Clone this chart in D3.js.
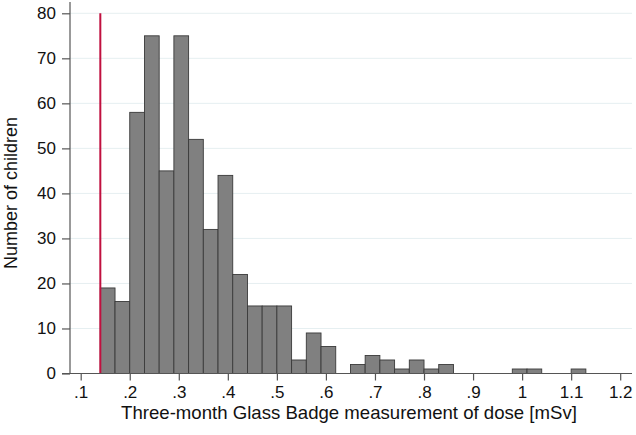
<!DOCTYPE html>
<html>
<head>
<meta charset="utf-8">
<script src="https://cdn.jsdelivr.net/npm/d3@7"></script>
<style>
  html, body { margin: 0; padding: 0; background: #fff; }
  svg { display: block; }
  text { font-family: "Liberation Sans", Arial, Helvetica, sans-serif; fill: #111; }
</style>
</head>
<body>
<svg id="chart" width="636" height="435"></svg>
<script>
// Histogram bins (left edges, width 0.03 mSv) and counts
const binStart = 0.14;
const binWidth = 0.03;
const counts = [19, 16, 58, 75, 45, 75, 52, 32, 44, 22, 15, 15, 15, 3, 9, 6, 0,
                2, 4, 3, 1, 3, 1, 2, 0, 0, 0, 0, 1, 1, 0, 0, 1];
const xTicks = [0.1, 0.2, 0.3, 0.4, 0.5, 0.6, 0.7, 0.8, 0.9, 1.0, 1.1, 1.2];
const xTickLabels = [".1", ".2", ".3", ".4", ".5", ".6", ".7", ".8", ".9", "1", "1.1", "1.2"];
const yTicks = [0, 10, 20, 30, 40, 50, 60, 70, 80];
const refLine = 0.14;
const xTitle = "Three-month Glass Badge measurement of dose [mSv]";
const yTitle = "Number of children";

const bins = counts.map((c, i) => ({
  x0: binStart + i * binWidth,
  x1: binStart + (i + 1) * binWidth,
  n: c
}));

const svg = d3.select("#chart");
const x = d3.scaleLinear().domain([0.1, 1.2]).range([80.7, 620.2]);
const y = d3.scaleLinear().domain([0, 80]).range([373.5, 13.3]);
const plotLeft = 70, plotRight = 632;

// gridlines
svg.append("g").selectAll("line").data(yTicks.filter(d => d > 0)).join("line")
  .attr("x1", plotLeft).attr("x2", plotRight)
  .attr("y1", d => y(d)).attr("y2", d => y(d))
  .attr("stroke", "#e6eff1").attr("stroke-width", 1);

// bars
svg.append("g").selectAll("rect").data(bins.filter(b => b.n > 0)).join("rect")
  .attr("x", d => x(d.x0))
  .attr("width", d => x(d.x1) - x(d.x0))
  .attr("y", d => y(d.n))
  .attr("height", d => y(0) - y(d.n))
  .attr("fill", "#808080")
  .attr("stroke", "#3a3a3a")
  .attr("stroke-width", 0.9);

// reference line
svg.append("line")
  .attr("x1", x(refLine)).attr("x2", x(refLine))
  .attr("y1", y(80)).attr("y2", y(0))
  .attr("stroke", "#c0103f").attr("stroke-width", 2);

// y axis
const yAxis = d3.axisLeft(y).tickValues(yTicks).tickSize(8).tickPadding(6).tickFormat(d3.format("d"));
const gy = svg.append("g").attr("transform", `translate(${plotLeft},0)`).call(yAxis);
gy.select(".domain").remove();
gy.append("line").attr("x1", 0).attr("x2", 0).attr("y1", 2).attr("y2", y(0))
  .attr("stroke", "#555").attr("stroke-width", 1.2);
gy.selectAll(".tick line").attr("stroke", "#555").attr("stroke-width", 1.2);
gy.selectAll(".tick text").attr("font-size", 17).attr("fill", "#111")
  .attr("font-family", "Liberation Sans, Arial, sans-serif");

// x axis
const xAxis = d3.axisBottom(x).tickValues(xTicks).tickSize(7).tickPadding(5)
  .tickFormat((d, i) => xTickLabels[i]);
const gx = svg.append("g").attr("transform", `translate(0,${y(0)})`).call(xAxis);
gx.select(".domain").remove();
gx.append("line").attr("x1", 62).attr("x2", plotRight).attr("y1", 0).attr("y2", 0)
  .attr("stroke", "#555").attr("stroke-width", 1.2);
gx.selectAll(".tick line").attr("stroke", "#555").attr("stroke-width", 1.2);
gx.selectAll(".tick text").attr("font-size", 17).attr("fill", "#111")
  .attr("font-family", "Liberation Sans, Arial, sans-serif");

// titles
svg.append("text").attr("x", 349).attr("y", 419).attr("text-anchor", "middle")
  .attr("font-size", 18.6).text(xTitle);
svg.append("text").attr("transform", "translate(17,193) rotate(-90)")
  .attr("text-anchor", "middle").attr("font-size", 18).text(yTitle);
</script>
</body>
</html>
